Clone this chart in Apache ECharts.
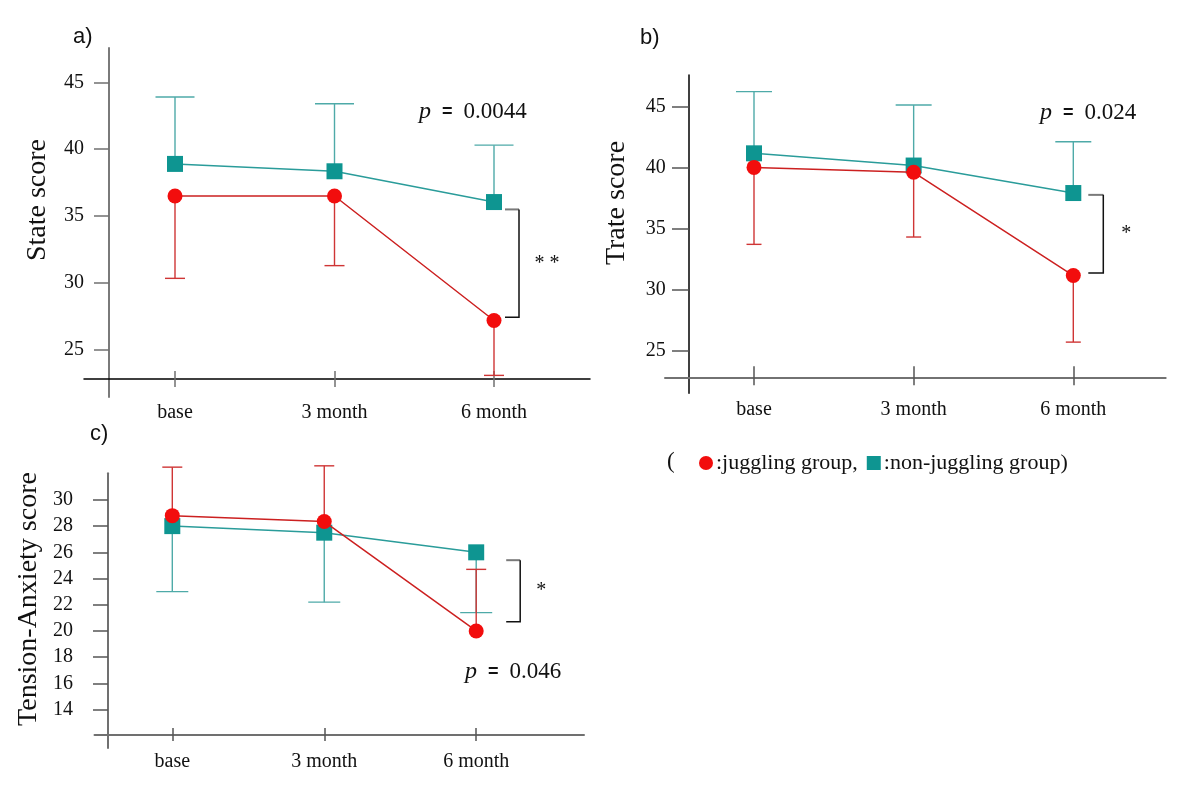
<!DOCTYPE html>
<html>
<head>
<meta charset="utf-8">
<title>Juggling group scores</title>
<script src="https://cdn.jsdelivr.net/npm/echarts@6/dist/echarts.min.js"></script>
<style>
html, body { margin: 0; padding: 0; background: #fff; }
#chart { width: 1200px; height: 800px; }
</style>
</head>
<body>
<div id="chart"></div>
<script>
var categories = ['base', '3 month', '6 month'];

// a) State score  (bar = end of the one-sided error bar)
var stateJuggling = [36.5, 36.5, 27.2];
var stateJugglingBar = [30.35, 31.3, 23.1];
var stateNonJuggling = [38.9, 38.35, 36.05];
var stateNonJugglingBar = [43.9, 43.4, 40.3];
var stateTicks = [25, 30, 35, 40, 45];
var stateBracket = [35.5, 27.45];

// b) Trate score
var trateJuggling = [40.0, 39.6, 31.15];
var trateJugglingBar = [33.7, 34.3, 25.7];
var trateNonJuggling = [41.15, 40.15, 37.9];
var trateNonJugglingBar = [46.2, 45.1, 42.1];
var trateTicks = [25, 30, 35, 40, 45];
var trateBracket = [37.75, 31.35];

// c) Tension-Anxiety score
var tensionJuggling = [28.8, 28.35, 20.0];
var tensionJugglingBar = [32.5, 32.6, 24.7];
var tensionNonJuggling = [28.0, 27.5, 26.0];
var tensionNonJugglingBar = [23.0, 22.2, 21.4];
var tensionTicks = [14, 16, 18, 20, 22, 24, 26, 28, 30];
var tensionBracket = [25.4, 20.7];

var SERIF = '"Liberation Serif", "Times New Roman", serif';
var SANS = '"Liberation Sans", Arial, sans-serif';
var RED = '#f20d0d', RED_LINE = '#cc2020', RED_BAR = '#cf3535';
var TEAL = '#0e9591', TEAL_LINE = '#2a9c9a', TEAL_BAR = '#4eaaa8';

var panels = [
    { jug: stateJuggling, jugBar: stateJugglingBar, non: stateNonJuggling, nonBar: stateNonJugglingBar,
      ticks: stateTicks, bracket: stateBracket, stars: '* *',
      axisX: 109, xLineLeft: 84, xLineRight: 590, xAxisY: 379, yTop: 48, yLineBottom: 397,
      baseX: 175, unit: 159.5, yMin: 22.83, yMax: 47.56,
      yLabelMargin: 25, xLabelMargin: 24, yTickLen: 15, xTickIn: 8, xTickOut: 8,
      yLineColor: '#7a7a7a', yLineWidth: 2, xLineColor: '#000', xLineWidth: 1.5, tickColor: '#707070',
      bracketOff: [11, 25], starOff: 53, capJug: 20, capNon: 39 },
    { jug: trateJuggling, jugBar: trateJugglingBar, non: trateNonJuggling, nonBar: trateNonJugglingBar,
      ticks: trateTicks, bracket: trateBracket, stars: '*',
      axisX: 688.7, xLineLeft: 665, xLineRight: 1165.7, xAxisY: 377.3, yTop: 75, yLineBottom: 393.3,
      baseX: 754, unit: 159.65, yMin: 22.82, yMax: 47.56,
      yLabelMargin: 23, xLabelMargin: 22, yTickLen: 16.7, xTickIn: 11, xTickOut: 8,
      yLineColor: '#000', yLineWidth: 1.5, xLineColor: '#727272', xLineWidth: 2, tickColor: '#555',
      bracketOff: [15, 30], starOff: 53, capJug: 15, capNon: 36 },
    { jug: tensionJuggling, jugBar: tensionJugglingBar, non: tensionNonJuggling, nonBar: tensionNonJugglingBar,
      ticks: tensionTicks, bracket: tensionBracket, stars: '*',
      axisX: 108, xLineLeft: 94.5, xLineRight: 584, xAxisY: 734.5, yTop: 473.3, yLineBottom: 748,
      baseX: 172.3, unit: 151.95, yMin: 12.1, yMax: 32.03,
      yLabelMargin: 35, xLabelMargin: 17, yTickLen: 15, xTickIn: 6.5, xTickOut: 6.5,
      yLineColor: '#707070', yLineWidth: 2, xLineColor: '#707070', xLineWidth: 2, tickColor: '#555',
      bracketOff: [30, 44], starOff: 65, capJug: 20, capNon: 32 }
];

var grids = [], xAxes = [], yAxes = [], series = [];

function errorBars(idx, means, ends, color, capW) {
    return {
        type: 'custom', xAxisIndex: idx, yAxisIndex: idx, z: 2, silent: true,
        data: means.map(function (m, i) { return [i, m, ends[i]]; }),
        renderItem: function (params, api) {
            var p0 = api.coord([api.value(0), api.value(1)]);
            var p1 = api.coord([api.value(0), api.value(2)]);
            var st = { stroke: color, lineWidth: 1.4 };
            return { type: 'group', children: [
                { type: 'line', shape: { x1: p0[0], y1: p0[1], x2: p1[0], y2: p1[1] }, style: st },
                { type: 'line', shape: { x1: p1[0] - capW / 2, y1: p1[1], x2: p1[0] + capW / 2, y2: p1[1] }, style: st }
            ]};
        }
    };
}

function bracketSeries(idx, p) {
    return {
        type: 'custom', xAxisIndex: idx, yAxisIndex: idx, z: 2, silent: true,
        data: [[2, p.bracket[0], p.bracket[1]]],
        renderItem: function (params, api) {
            var top = api.coord([api.value(0), api.value(1)]);
            var bot = api.coord([api.value(0), api.value(2)]);
            var x1 = top[0] + p.bracketOff[0], x2 = top[0] + p.bracketOff[1];
            return { type: 'group', children: [
                { type: 'line', shape: { x1: x1, y1: top[1], x2: x2, y2: top[1] }, style: { stroke: '#7a7a7a', lineWidth: 2 } },
                { type: 'polyline', shape: { points: [[x2, top[1]], [x2, bot[1]], [x1, bot[1]]] }, style: { stroke: '#111', lineWidth: 1.5, fill: null } },
                { type: 'text', x: top[0] + p.starOff, y: (top[1] + bot[1]) / 2,
                  style: { text: p.stars, fontFamily: SERIF, fontSize: 20, fill: '#111', align: 'center', verticalAlign: 'middle' } }
            ]};
        }
    };
}

panels.forEach(function (p, k) {
    var xMin = -(p.baseX - p.axisX) / p.unit;
    var xMax = 2.5;
    var auxMin = xMin - (p.axisX - p.xLineLeft) / p.unit;
    var auxMax = auxMin + (p.xLineRight - p.xLineLeft) / p.unit;
    var d = k * 3;

    // data grid
    grids.push({ left: p.axisX, top: p.yTop, width: (xMax - xMin) * p.unit, height: p.xAxisY - p.yTop });
    // grid holding only the long x axis line
    grids.push({ left: p.xLineLeft, top: p.yTop, width: p.xLineRight - p.xLineLeft, height: p.xAxisY - p.yTop });
    // grid holding only the long y axis line
    grids.push({ left: p.axisX, top: p.yTop, width: 20, height: p.yLineBottom - p.yTop });

    xAxes.push({
        gridIndex: d, type: 'value', min: xMin, max: xMax,
        axisLine: { show: false, onZero: false }, splitLine: { show: false },
        axisTick: { show: true, inside: true, length: p.xTickIn, customValues: [0, 1, 2], lineStyle: { color: p.tickColor, width: 1.5 } },
        axisLabel: { customValues: [0, 1, 2], margin: p.xLabelMargin, color: '#111', fontFamily: SERIF, fontSize: 20,
            formatter: function (v) { return categories[Math.round(v)]; } }
    });
    xAxes.push({
        gridIndex: d + 1, type: 'value', min: auxMin, max: auxMax,
        axisLine: { show: true, onZero: false, lineStyle: { color: p.xLineColor, width: p.xLineWidth } },
        splitLine: { show: false }, axisLabel: { show: false },
        axisTick: { show: true, length: p.xTickOut, customValues: [0, 1, 2], lineStyle: { color: p.tickColor, width: 1.5 } }
    });
    xAxes.push({ gridIndex: d + 2, type: 'value', min: 0, max: 1, show: false });

    yAxes.push({
        gridIndex: d, type: 'value', min: p.yMin, max: p.yMax,
        axisLine: { show: false, onZero: false }, splitLine: { show: false },
        axisTick: { show: true, length: p.yTickLen, customValues: p.ticks, lineStyle: { color: p.tickColor, width: 1.5 } },
        axisLabel: { customValues: p.ticks, margin: p.yLabelMargin, color: '#111', fontFamily: SERIF, fontSize: 20 }
    });
    yAxes.push({ gridIndex: d + 1, type: 'value', min: 0, max: 1, show: false });
    yAxes.push({
        gridIndex: d + 2, type: 'value', min: 0, max: 1,
        axisLine: { show: true, onZero: false, lineStyle: { color: p.yLineColor, width: p.yLineWidth } },
        axisTick: { show: false }, axisLabel: { show: false }, splitLine: { show: false }
    });

    series.push(errorBars(d, p.non, p.nonBar, TEAL_BAR, p.capNon));
    series.push(errorBars(d, p.jug, p.jugBar, RED_BAR, p.capJug));
    series.push({
        type: 'line', name: 'non-juggling group', xAxisIndex: d, yAxisIndex: d, z: 3,
        data: p.non.map(function (v, i) { return [i, v]; }),
        symbol: 'rect', symbolSize: 16,
        lineStyle: { color: TEAL_LINE, width: 1.5 }, itemStyle: { color: TEAL }
    });
    series.push({
        type: 'line', name: 'juggling group', xAxisIndex: d, yAxisIndex: d, z: 4,
        data: p.jug.map(function (v, i) { return [i, v]; }),
        symbol: 'circle', symbolSize: 15,
        lineStyle: { color: RED_LINE, width: 1.5 }, itemStyle: { color: RED }
    });
    series.push(bracketSeries(d, p));
});

function pText(x, y, value) {
    return {
        type: 'text', x: x, y: y,
        style: {
            text: '{p|p}  {e|=}  {n|' + value + '}', fontFamily: SERIF, fontSize: 22, fill: '#111', verticalAlign: 'middle',
            rich: {
                p: { fontFamily: SERIF, fontStyle: 'italic', fontSize: 24, fill: '#111' },
                e: { fontFamily: SANS, fontWeight: 'bold', fontSize: 18, fill: '#111' },
                n: { fontFamily: SERIF, fontSize: 23, fill: '#111' }
            }
        }
    };
}

function yTitle(x, y, text) {
    return { type: 'text', x: x, y: y, rotation: Math.PI / 2,
        style: { text: text, fontFamily: SERIF, fontSize: 28, fill: '#111', align: 'center', verticalAlign: 'middle' } };
}

function panelLabel(x, y, text) {
    return { type: 'text', x: x, y: y,
        style: { text: text, fontFamily: SANS, fontSize: 22, fill: '#111', verticalAlign: 'middle' } };
}

var chart = echarts.init(document.getElementById('chart'));
chart.setOption({
    animation: false,
    backgroundColor: '#fff',
    grid: grids,
    xAxis: xAxes,
    yAxis: yAxes,
    series: series,
    legend: {
        left: 694, top: 447, itemWidth: 14, itemHeight: 14, itemGap: 9,
        selectedMode: false,
        textStyle: { fontFamily: SERIF, fontSize: 22, color: '#111', padding: [0, 0, 0, -2] },
        formatter: function (name) {
            return name === 'juggling group' ? ':juggling group,' : ':non-juggling group)';
        },
        data: [
            { name: 'juggling group', icon: 'circle', itemStyle: { color: RED } },
            { name: 'non-juggling group', icon: 'rect', itemStyle: { color: TEAL } }
        ]
    },
    graphic: [
        panelLabel(73, 37, 'a)'),
        panelLabel(640, 38, 'b)'),
        panelLabel(90, 434, 'c)'),
        yTitle(38, 200, 'State score'),
        yTitle(617, 203, 'Trate score'),
        yTitle(29, 599, 'Tension-Anxiety score'),
        pText(419, 112, '0.0044'),
        pText(1040, 113, '0.024'),
        pText(465, 672, '0.046'),
        { type: 'text', x: 667, y: 462, style: { text: '(', fontFamily: SERIF, fontSize: 23, fill: '#111', verticalAlign: 'middle' } }
    ]
});
</script>
</body>
</html>
